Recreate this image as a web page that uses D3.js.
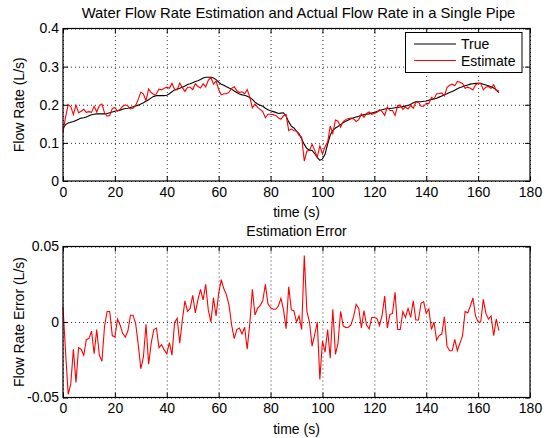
<!DOCTYPE html>
<html><head><meta charset="utf-8">
<script src="https://cdn.jsdelivr.net/npm/d3@7"></script>
<style>
body{margin:0;background:#fff}
svg{display:block}
text{font-family:"Liberation Sans",Arial,Helvetica,sans-serif;fill:#000}
</style>
</head><body>
<svg id="chart" width="553" height="438"></svg>
<script>
// ---- data ----
const timeS = d3.range(0, 169); // samples every 1 s, 0..168
const trueFlow = [
0.138,0.148,0.152,0.154,0.156,0.159,0.162,0.165,0.166,0.168,
0.171,0.174,0.175,0.176,0.176,0.176,0.176,0.177,0.179,0.181,
0.183,0.185,0.186,0.188,0.190,0.191,0.193,0.195,0.197,0.199,
0.202,0.205,0.209,0.213,0.218,0.222,0.224,0.224,0.224,0.224,
0.225,0.229,0.234,0.239,0.241,0.243,0.246,0.249,0.253,0.255,
0.258,0.261,0.263,0.266,0.270,0.272,0.272,0.272,0.270,0.266,
0.259,0.254,0.251,0.247,0.244,0.241,0.236,0.232,0.228,0.226,
0.225,0.222,0.219,0.214,0.207,0.202,0.199,0.196,0.191,0.187,
0.184,0.182,0.180,0.177,0.178,0.179,0.170,0.155,0.144,0.139,
0.131,0.124,0.110,0.096,0.085,0.081,0.080,0.072,0.062,0.054,
0.058,0.070,0.097,0.120,0.133,0.139,0.143,0.148,0.153,0.157,
0.160,0.163,0.166,0.168,0.170,0.172,0.174,0.175,0.176,0.178,
0.180,0.182,0.185,0.187,0.189,0.190,0.190,0.191,0.192,0.193,
0.194,0.195,0.197,0.198,0.201,0.205,0.208,0.208,0.208,0.209,
0.210,0.212,0.214,0.215,0.217,0.220,0.223,0.226,0.229,0.232,
0.235,0.238,0.242,0.245,0.247,0.250,0.252,0.254,0.255,0.256,
0.256,0.256,0.254,0.252,0.250,0.247,0.244,0.239,0.232];
const estimateFlow = [
0.128,0.168,0.200,0.195,0.174,0.199,0.179,0.183,0.188,0.180,
0.182,0.180,0.196,0.181,0.198,0.202,0.179,0.170,0.172,0.190,
0.193,0.183,0.188,0.196,0.200,0.197,0.189,0.191,0.198,0.214,
0.233,0.228,0.211,0.241,0.232,0.227,0.228,0.241,0.239,0.243,
0.246,0.243,0.256,0.240,0.239,0.257,0.245,0.235,0.246,0.246,
0.240,0.255,0.248,0.244,0.255,0.247,0.264,0.272,0.254,0.262,
0.240,0.226,0.229,0.229,0.233,0.243,0.247,0.237,0.232,0.234,
0.229,0.240,0.220,0.192,0.202,0.193,0.188,0.182,0.166,0.175,
0.175,0.174,0.172,0.166,0.162,0.171,0.174,0.132,0.136,0.132,
0.131,0.120,0.115,0.052,0.078,0.081,0.096,0.081,0.062,0.092,
0.071,0.090,0.102,0.144,0.125,0.160,0.157,0.141,0.156,0.161,
0.164,0.165,0.163,0.156,0.161,0.176,0.167,0.177,0.181,0.175,
0.177,0.180,0.187,0.182,0.172,0.194,0.185,0.185,0.172,0.198,
0.199,0.188,0.194,0.189,0.198,0.191,0.207,0.207,0.196,0.196,
0.204,0.203,0.219,0.215,0.229,0.229,0.231,0.223,0.245,0.251,
0.254,0.250,0.261,0.259,0.256,0.243,0.246,0.243,0.239,0.252,
0.256,0.256,0.239,0.246,0.248,0.243,0.253,0.237,0.238];
const estimationError = [
0.010,-0.020,-0.048,-0.041,-0.018,-0.040,-0.017,-0.018,-0.022,-0.0115,
-0.011,-0.006,-0.021,-0.005,-0.022,-0.026,-0.003,0.007,0.007,-0.009,
-0.010,0.002,-0.002,-0.0075,-0.010,-0.006,0.0045,0.0045,-0.001,-0.015,
-0.031,-0.023,-0.0015,-0.028,-0.014,-0.005,-0.004,-0.017,-0.015,-0.0185,
-0.021,-0.0137,-0.022,-0.0005,0.0025,-0.014,0.0013,0.014,0.007,0.009,
0.0177,0.006,0.0146,0.0216,0.0146,0.025,0.008,0.000,0.016,0.004,
0.019,0.028,0.022,0.018,0.011,-0.002,-0.011,-0.005,-0.004,-0.008,
-0.0035,-0.018,-0.001,0.0216,0.0046,0.009,0.011,0.014,0.025,0.012,
0.0095,0.0084,0.0084,0.0106,0.0157,0.008,-0.0044,0.0234,0.008,0.0075,
0.000,0.004,-0.005,0.044,0.007,0.000,-0.016,-0.0086,0.000,-0.038,
-0.0126,-0.020,-0.005,-0.024,0.0084,-0.0214,-0.014,0.007,-0.0026,-0.0037,
-0.0035,-0.002,0.0035,0.0117,0.009,-0.004,0.0075,-0.002,-0.0046,0.003,
0.003,0.0024,-0.0024,0.0046,0.0172,-0.004,0.005,0.0057,0.0197,-0.005,
-0.005,0.007,0.003,0.009,0.003,0.014,0.0013,0.0013,0.0124,0.0135,
0.0057,0.0086,-0.005,0.000,-0.012,-0.009,-0.008,0.0035,-0.016,-0.019,
-0.019,-0.0115,-0.019,-0.014,-0.009,0.007,0.006,0.0106,0.016,0.004,
0.000,0.000,0.015,0.0057,0.002,0.004,-0.009,0.002,-0.0057];
const xTicks = [0,20,40,60,80,100,120,140,160,180];
const xTickLabels = ["0","20","40","60","80","100","120","140","160","180"];
const flowTicks = [0,0.1,0.2,0.3,0.4];
const flowTickLabels = ["0","0.1","0.2","0.3","0.4"];
const errorTicks = [-0.05,0,0.05];
const errorTickLabels = ["-0.05","0","0.05"];
const legendNames = ["True","Estimate"];

// ---- drawing ----
const svg = d3.select("#chart");
const FONT = 14;
const left = 63, right = 530;
const x = d3.scaleLinear().domain([0,180]).range([left,right]);

function panel(top, bottom, domain, ticks, labels, series, colors, title, ylab, titleSize, titleX){
  const y = d3.scaleLinear().domain(domain).range([bottom, top]);
  const g = svg.append("g");
  const h = bottom - top, w = right - left;
  // grid
  const gx = g.append("g").attr("transform",`translate(0,${bottom})`)
    .call(d3.axisBottom(x).tickValues(xTicks).tickSize(-h).tickFormat(""));
  const gy = g.append("g").attr("transform",`translate(${left},0)`)
    .call(d3.axisLeft(y).tickValues(ticks).tickSize(-w).tickFormat(""));
  [gx,gy].forEach(a=>{a.select(".domain").remove();
    a.selectAll("line").attr("stroke","#333").attr("stroke-width",1).attr("stroke-dasharray","1,3");});
  // series
  series.forEach((s,k)=>{
    g.append("path").datum(s).attr("fill","none").attr("stroke",colors[k]).attr("stroke-width",1.1)
      .attr("d", d3.line().x((d,i)=>x(timeS[i])).y(d=>y(d)));
  });
  // axes with inward ticks
  const fmtX = (d,i)=>xTickLabels[i], fmtY=(d,i)=>labels[i];
  const ab = g.append("g").attr("transform",`translate(0,${bottom})`)
    .call(d3.axisBottom(x).tickValues(xTicks).tickSizeInner(-5).tickSizeOuter(0).tickPadding(6).tickFormat(fmtX));
  const at = g.append("g").attr("transform",`translate(0,${top})`)
    .call(d3.axisTop(x).tickValues(xTicks).tickSizeInner(-5).tickSizeOuter(0).tickFormat(""));
  const al = g.append("g").attr("transform",`translate(${left},0)`)
    .call(d3.axisLeft(y).tickValues(ticks).tickSizeInner(-5).tickSizeOuter(0).tickPadding(4).tickFormat(fmtY));
  const ar = g.append("g").attr("transform",`translate(${right},0)`)
    .call(d3.axisRight(y).tickValues(ticks).tickSizeInner(-5).tickSizeOuter(0).tickFormat(""));
  [ab,at,al,ar].forEach(a=>{a.select(".domain").remove();
    a.selectAll("line").attr("stroke","#000");
    a.selectAll("text").attr("font-size",FONT).attr("font-family",'"Liberation Sans",Arial,sans-serif').attr("fill","#000");});
  g.append("rect").attr("x",left).attr("y",top).attr("width",w).attr("height",h)
    .attr("fill","none").attr("stroke","#000").attr("stroke-width",1.2);
  g.append("text").attr("x",titleX).attr("y",top-11).attr("text-anchor","middle")
    .attr("font-size",titleSize).text(title);
  g.append("text").attr("x",(left+right)/2).attr("y",bottom+36).attr("text-anchor","middle")
    .attr("font-size",FONT).text("time (s)");
  g.append("text").attr("transform",`translate(24,${(top+bottom)/2}) rotate(-90)`).attr("text-anchor","middle")
    .attr("font-size",FONT).text(ylab);
  return {g,y};
}

const p1 = panel(28.5,181,[0,0.4],flowTicks,flowTickLabels,[trueFlow,estimateFlow],["#000","#ff0000"],
  "Water Flow Rate Estimation and Actual Flow Rate in a Single Pipe","Flow Rate (L/s)", 14.8, 298.5);
const p2 = panel(246.5,397.5,[-0.05,0.05],errorTicks,errorTickLabels,[estimationError],["#ff0000"],
  "Estimation Error","Flow Rate Error (L/s)", 14, 296.5);

// legend
const lg = svg.append("g");
lg.append("rect").attr("x",405.5).attr("y",32.5).attr("width",116.5).attr("height",40)
  .attr("fill","#fff").attr("stroke","#000").attr("stroke-width",1);
const legColors = ["#000","#ff0000"];
legendNames.forEach((n,i)=>{
  const yy = 44 + i*16.5;
  lg.append("line").attr("x1",414).attr("x2",456).attr("y1",yy).attr("y2",yy).attr("stroke",legColors[i]);
  lg.append("text").attr("x",461).attr("y",yy+5).attr("font-size",FONT).text(n);
});
</script>
</body></html>
